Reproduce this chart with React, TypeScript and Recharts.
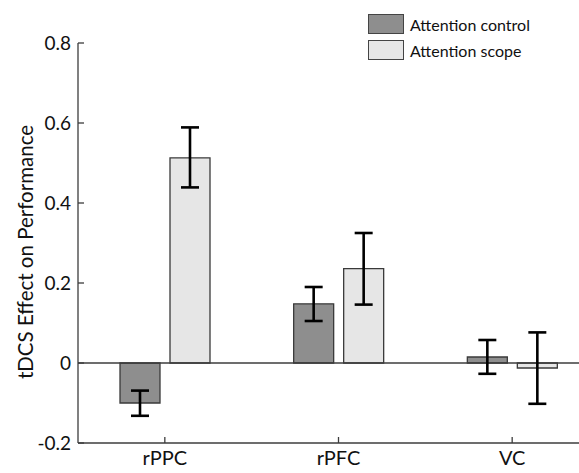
import React from 'react';
import { BarChart, Bar, XAxis, YAxis, ReferenceLine, ErrorBar, Legend } from 'recharts';

const categories = ['rPPC', 'rPFC', 'VC'];
const controlValues = [-0.1, 0.148, 0.015];
const scopeValues = [0.513, 0.236, -0.0125];
const controlLow = [-0.132, 0.105, -0.027];
const controlHigh = [-0.069, 0.19, 0.0575];
const scopeLow = [0.439, 0.146, -0.102];
const scopeHigh = [0.589, 0.325, 0.0765];
const yTicks = [-0.2, 0, 0.2, 0.4, 0.6, 0.8];
const seriesNames = ['Attention control', 'Attention scope'];
const seriesColors = ['#8e8e8e', '#e6e6e6'];

const data = categories.map((c, i) => ({
  name: c,
  control: controlValues[i],
  scope: scopeValues[i],
  controlErr: [controlValues[i] - controlLow[i], controlHigh[i] - controlValues[i]],
  scopeErr: [scopeValues[i] - scopeLow[i], scopeHigh[i] - scopeValues[i]],
}));

const FONT = 'Lato, "Open Sans", sans-serif';
const AX = '#3c3c3c';

const LegendBox = () => (
  <div style={{ fontFamily: FONT, fontSize: 16, color: '#111' }}>
    {seriesNames.map((n, i) => (
      <div key={n} style={{ display: 'flex', alignItems: 'center', height: 26 }}>
        <div
          style={{
            width: 34,
            height: 18,
            background: seriesColors[i],
            border: '1.3px solid #444',
            marginRight: 6,
          }}
        />
        <span>{n}</span>
      </div>
    ))}
  </div>
);

const YLabel = () => {
  const cx = 25;
  const cy = 252;
  return (
    <text
      x={cx}
      y={cy}
      transform={`rotate(-90, ${cx}, ${cy})`}
      textAnchor="middle"
      dominantBaseline="central"
      fontFamily={FONT}
      fontSize={20.5}
      fill="#111"
    >
      tDCS Effect on Performance
    </text>
  );
};

export default function App() {
  return (
    <div style={{ position: 'absolute', left: 0, top: 0, width: 579, height: 473, overflow: 'hidden', background: '#fff' }}>
      <BarChart
        width={620}
        height={473}
        data={data}
        margin={{ top: 43, right: 21, left: 0, bottom: 0 }}
        barSize={40}
        barGap={10}
      >
        <XAxis
          dataKey="name"
          axisLine={{ stroke: AX, strokeWidth: 1.3 }}
          tickLine={{ stroke: AX, strokeWidth: 1.3 }}
          tickSize={-6}
          tickMargin={14}
          height={30}
          tick={{ fontFamily: FONT, fontSize: 20, fill: '#111' }}
        />
        <YAxis
          domain={[-0.2, 0.8]}
          ticks={yTicks}
          width={78}
          axisLine={{ stroke: AX, strokeWidth: 1.3 }}
          tickLine={{ stroke: AX, strokeWidth: 1.3 }}
          tickSize={-6}
          tickMargin={13}
          tickFormatter={(v: number) => (v === 0 ? '0' : v.toFixed(1))}
          tick={{ fontFamily: FONT, fontSize: 19, fill: '#111' }}
          label={YLabel}
          allowDataOverflow
        />
        <ReferenceLine y={0} stroke={AX} strokeWidth={1.3} />
        <Bar dataKey="control" name={seriesNames[0]} fill={seriesColors[0]} stroke="#3a3a3a" strokeWidth={1.3} isAnimationActive={false}>
          <ErrorBar dataKey="controlErr" width={9} strokeWidth={2.6} stroke="#000" direction="y" />
        </Bar>
        <Bar dataKey="scope" name={seriesNames[1]} fill={seriesColors[1]} stroke="#3a3a3a" strokeWidth={1.3} isAnimationActive={false}>
          <ErrorBar dataKey="scopeErr" width={9} strokeWidth={2.6} stroke="#000" direction="y" />
        </Bar>
        <Legend
          layout="vertical"
          align="center"
          verticalAlign="middle"
          wrapperStyle={{ left: 368, top: 11, width: 200 }}
          content={() => <LegendBox />}
        />
      </BarChart>
    </div>
  );
}
